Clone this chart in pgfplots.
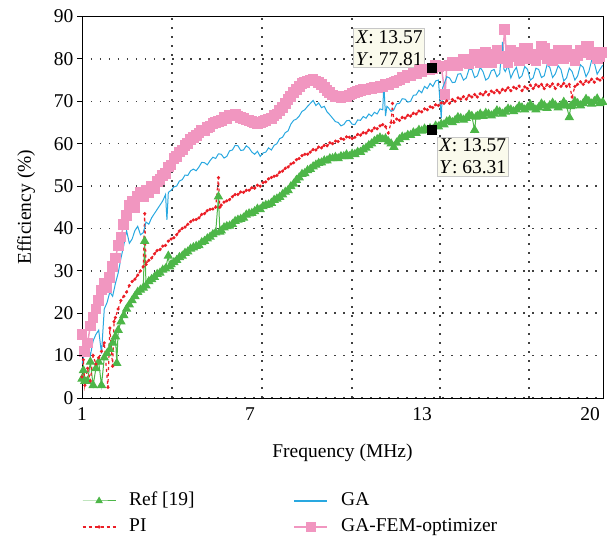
\documentclass[border=0pt]{standalone}
\usepackage{fontspec}
\setmainfont{Liberation Serif}
\usepackage{pgfplots}
\pgfplotsset{compat=1.18}
\definecolor{cgreen}{RGB}{77,182,72}
\definecolor{cred}{RGB}{235,30,38}
\definecolor{cblue}{RGB}{41,168,224}
\definecolor{cpink}{RGB}{241,150,192}
\definecolor{tipfill}{RGB}{250,250,236}
\begin{document}
\begin{tikzpicture}[font=\fontsize{19.5}{22}\selectfont]
\begin{axis}[name=ax, scale only axis, width=521pt, height=381.5pt,
  xmin=1, xmax=19.71, ymin=0, ymax=90,
  xtick={1,7.03,13.21,19.25}, xticklabels={1,7,13,20},
  ytick={0,10,...,90},
  extra x ticks={4.23,7.47,10.70,13.86,17.06}, extra x tick labels={},
  extra x tick style={grid=major, major grid style={black!75, line width=1.5pt, dash pattern=on 1.5pt off 7.5pt}},
  ymajorgrids=true,
  major grid style={black!75, line width=1.5pt, dash pattern=on 1.5pt off 7.5pt},
  major tick length=0pt,
  ytick pos=left, xtick pos=bottom,
  axis line style={black, line width=0.9pt},
  /pgf/number format/assume math mode=true,
  xticklabel style={yshift=-6pt},
  yticklabel style={xshift=-5pt},
  xlabel={Frequency (MHz)}, ylabel={Efficiency (\%)},
  xlabel shift=16pt, ylabel shift=12pt,
  legend columns=2, legend cell align=left,
  legend style={at={(0,-0.2438)}, anchor=north west, draw=none, fill=none,
    inner sep=0pt, outer sep=0pt, row sep=6pt,
    nodes={text height=14pt, text depth=4pt, inner sep=1pt},
    /tikz/every odd column/.append style={column sep=12pt},
    /tikz/every even column/.append style={column sep=98pt}},
  legend image code/.code={\draw[mark repeat=2,mark phase=2,#1] plot coordinates {(0pt,0pt)(16.5pt,0pt)(33pt,0pt)};},
]
% GA-FEM-optimizer
\addplot[forget plot, cpink, line width=1.5pt, mark=square*, mark size=4.6pt, mark options={solid}] coordinates {
(1.0,15)(1.1,11)(1.2,13)(1.3,17)(1.4,19)(1.5,21)(1.6,23)(1.7,25.5)(1.8,27)(1.9,26)(2.0,28.5)(2.1,31)(2.2,33)(2.3,36)(2.4,38)(2.5,41)(2.6,43)(2.7,45.5)(2.8,46.5)(2.9,45)(3.0,47.5)(3.1,48.5)(3.2,47.5)(3.3,49)(3.4,48.5)(3.5,50)(3.6,49.5)(3.7,51)(3.8,51.5)(3.9,52.5)(4.0,53)(4.1,54.5)(4.2,55)(4.3,56.5)(4.4,57)(4.5,58)(4.6,58.5)(4.7,59.5)(4.8,60)(4.9,61)(5.0,61.5)(5.1,62)(5.2,62.5)(5.3,63.2)(5.4,63)(5.5,63.8)(5.6,64)(5.7,64.8)(5.8,65)(5.9,65.3)(6.0,65.5)(6.1,66.2)(6.2,66)(6.3,66.6)(6.4,66.5)(6.5,66.8)(6.6,66.5)(6.7,66.2)(6.8,66)(6.9,65.6)(7.0,65.5)(7.1,65.2)(7.2,65)(7.3,64.8)(7.4,65)(7.5,65.2)(7.6,65.5)(7.7,65.8)(7.8,66)(7.9,66.6)(8.0,67)(8.1,67.8)(8.2,68.5)(8.3,69.5)(8.4,70.5)(8.5,71.2)(8.6,72)(8.7,72.8)(8.8,73.5)(8.9,74.2)(9.0,74.5)(9.1,74.8)(9.2,75)(9.3,75.1)(9.4,74.8)(9.5,74.5)(9.6,74)(9.7,73.2)(9.8,72.5)(9.9,72)(10.0,71.5)(10.1,71.2)(10.2,71)(10.3,70.9)(10.4,71)(10.5,71.2)(10.6,71.5)(10.7,71.8)(10.8,72)(10.9,72.3)(11.0,72.5)(11.1,72.7)(11.2,72.8)(11.3,72.9)(11.4,73)(11.5,73.3)(11.6,73.2)(11.7,73.6)(11.8,73.5)(11.9,73.9)(12.0,74)(12.1,74.3)(12.2,74.5)(12.3,74.8)(12.4,75)(12.5,75.6)(12.6,75.5)(12.7,76)(12.8,76)(12.9,76.6)(13.0,76.5)(13.1,77.2)(13.2,77)(13.3,77.6)(13.4,77.5)(13.5,77.5)(13.6,77.8)(13.7,78.5)(13.8,78.2)(13.9,78.3)(14.04,71.6)(14.1,78.3)(14.2,78.5)(14.3,79.2)(14.4,78.8)(14.5,78.4)(14.6,79)(14.7,80)(14.8,79.2)(14.9,78.8)(15.0,79.5)(15.1,81)(15.2,80.5)(15.3,79)(15.4,79.6)(15.5,81.5)(15.6,80)(15.7,79.2)(15.8,81)(15.9,82)(16.0,80)(16.1,80.5)(16.18,87)(16.25,80.5)(16.3,79)(16.4,82)(16.5,81.5)(16.6,80.5)(16.7,79.5)(16.8,81)(16.9,82.5)(17.0,82.5)(17.1,80)(17.2,80.8)(17.3,79.5)(17.4,81)(17.5,83)(17.6,82.5)(17.7,80)(17.8,81)(17.9,79.5)(18.0,80.8)(18.1,82)(18.2,81.3)(18.3,80)(18.4,82)(18.5,80.5)(18.6,81)(18.7,79.5)(18.8,80.7)(18.9,82)(19.0,81.5)(19.1,83)(19.2,83)(19.3,81)(19.4,81.5)(19.5,80)(19.6,80.5)(19.7,81.5)
};
% Ref [19]
\addplot[forget plot, cgreen, line width=1pt, mark=triangle*, mark size=4.5pt] coordinates {
(1.0,4.5)(1.05,6.5)(1.1,4)(1.2,4)(1.3,8.5)(1.4,3)(1.5,7)(1.6,8.5)(1.7,3)(1.8,9.5)(1.9,10.5)(2.0,11.5)(2.1,13)(2.2,14.5)(2.25,8.2)(2.3,16)(2.4,18)(2.5,19.5)(2.6,21)(2.7,22)(2.8,23)(2.9,24)(3.0,25)(3.1,25.5)(3.2,26)(3.25,37)(3.3,26.5)(3.4,27.5)(3.5,28)(3.6,28.5)(3.7,29.2)(3.8,29.5)(3.9,30.2)(4.0,30.5)(4.1,33.5)(4.15,31)(4.2,31.5)(4.3,32)(4.4,32.5)(4.5,33.2)(4.6,33.5)(4.7,34.2)(4.8,34.5)(4.9,35.2)(5.0,35.5)(5.1,35.8)(5.2,36)(5.3,36.7)(5.4,37)(5.5,37.6)(5.6,38)(5.7,38.6)(5.8,39)(5.9,47.5)(5.95,39.2)(6.0,39.5)(6.1,40.2)(6.2,40.5)(6.3,40.6)(6.4,41)(6.5,41.7)(6.6,42)(6.7,42.2)(6.8,42.5)(6.9,43.2)(7.0,43.5)(7.1,43.6)(7.2,44)(7.3,44.6)(7.4,44.5)(7.5,45.2)(7.6,45.5)(7.7,45.6)(7.8,46)(7.9,46.7)(8.0,47)(8.1,47.4)(8.2,48)(8.3,48.6)(8.4,49)(8.5,49.9)(8.6,50.5)(8.7,51.4)(8.8,52)(8.9,52.8)(9.0,53)(9.1,53.7)(9.2,54)(9.3,54.6)(9.4,55)(9.5,55.4)(9.6,55.5)(9.7,56)(9.8,56)(9.9,56.5)(10.0,56.5)(10.1,56.8)(10.2,56.5)(10.3,57)(10.4,57)(10.5,57.4)(10.6,57)(10.7,57.6)(10.8,57.5)(10.9,58)(11.0,58)(11.1,58.6)(11.2,59)(11.3,59.6)(11.4,60)(11.5,60.6)(11.6,61)(11.7,61.4)(11.8,61)(11.9,61.2)(12.0,60.5)(12.1,60)(12.2,59.2)(12.3,60.2)(12.4,61)(12.5,61.6)(12.6,61.5)(12.7,62)(12.8,62)(12.9,62.6)(13.0,62.5)(13.1,63.2)(13.2,63)(13.3,63.5)(13.4,63.2)(13.5,63.6)(13.6,63.3)(13.7,64.2)(13.8,64)(13.9,64.6)(14.0,64.5)(14.1,65.2)(14.2,65.5)(14.3,65)(14.4,65.5)(14.5,66.2)(14.6,66)(14.7,65.6)(14.8,66)(14.9,66.8)(15.0,66.5)(15.1,63.2)(15.15,66.3)(15.2,66.5)(15.3,67)(15.4,66.5)(15.5,67.2)(15.6,67)(15.7,66.6)(15.8,67)(15.9,67.8)(16.0,67.5)(16.1,67)(16.2,67.5)(16.3,68.2)(16.4,68)(16.5,67.6)(16.6,68)(16.7,68.8)(16.8,68.5)(16.9,68)(17.0,68.5)(17.1,69.2)(17.2,68.5)(17.3,68)(17.4,68.5)(17.5,69.4)(17.6,69)(17.7,68.4)(17.8,69)(17.9,69.6)(18.0,69)(18.1,68.5)(18.2,69)(18.3,69.8)(18.4,69)(18.5,66.2)(18.55,68.8)(18.6,69)(18.7,70)(18.8,69.5)(18.9,69)(19.0,69.5)(19.1,70.5)(19.2,70)(19.3,69.4)(19.4,70)(19.5,70.6)(19.6,69.5)(19.7,69.8)
};
% PI
\addplot[forget plot, cred, line width=1.2pt, dashed, mark=*, mark size=0.9pt, mark options={solid}] coordinates {
(1.0,5)(1.05,9)(1.1,3)(1.2,7)(1.3,4)(1.4,10)(1.5,8)(1.6,9.5)(1.7,11)(1.8,13)(1.93,2.5)(2.0,16.5)(2.1,7.5)(2.15,18)(2.2,19)(2.3,21)(2.4,23)(2.5,24)(2.6,25)(2.7,26.5)(2.8,27.5)(2.9,28)(3.0,29)(3.1,30)(3.2,31)(3.25,43.5)(3.3,31.5)(3.4,32.5)(3.5,33)(3.6,34)(3.7,34.8)(3.8,35)(3.9,35.8)(4.0,36)(4.1,37)(4.2,37.5)(4.3,37.8)(4.4,38.5)(4.5,39.4)(4.6,40)(4.7,40.3)(4.8,41)(4.9,41.6)(5.0,42)(5.1,42.1)(5.2,42.5)(5.3,43.3)(5.4,43.5)(5.5,44.2)(5.6,44.5)(5.7,44.6)(5.8,45)(5.9,52)(5.95,45)(6.0,45.5)(6.1,46.2)(6.2,46.5)(6.3,46.8)(6.4,47.5)(6.5,48)(6.6,48)(6.7,48.6)(6.8,48.5)(6.9,49)(7.0,49)(7.1,49.6)(7.2,49.5)(7.3,50.2)(7.4,50)(7.5,50.8)(7.6,51)(7.7,51.7)(7.8,52)(7.9,52.3)(8.0,52.5)(8.1,53.3)(8.2,53.5)(8.3,54.2)(8.4,54.5)(8.5,55.2)(8.6,55.5)(8.7,56.2)(8.8,56.5)(8.9,57.2)(9.0,57.5)(9.1,57.5)(9.2,58)(9.3,58.6)(9.4,58.5)(9.5,59.2)(9.6,59)(9.7,59.6)(9.8,59.5)(9.9,60.2)(10.0,60)(10.1,60.6)(10.2,60.5)(10.3,61.2)(10.4,61)(10.5,61.6)(10.6,61.5)(10.7,61.2)(10.8,61.5)(10.9,62.2)(11.0,62)(11.1,62.6)(11.2,62.5)(11.3,63.2)(11.4,63)(11.5,63.7)(11.6,63.5)(11.7,64.2)(11.8,64.5)(11.9,64)(12.0,62.5)(12.1,65)(12.15,69.5)(12.2,65)(12.3,65.8)(12.4,65.5)(12.5,66.2)(12.6,66)(12.7,66.7)(12.8,66.5)(12.9,67.2)(13.0,67)(13.1,67.7)(13.2,67.5)(13.3,68.2)(13.4,68)(13.5,68.7)(13.6,68.5)(13.7,69.2)(13.8,69)(13.9,69.6)(14.0,69.5)(14.1,70.1)(14.2,69.5)(14.3,70.4)(14.4,70)(14.5,70.8)(14.6,70.5)(14.7,71.1)(14.8,70.5)(14.9,71.4)(15.0,71)(15.1,71.6)(15.2,71)(15.3,71.8)(15.4,71.5)(15.5,72.2)(15.6,71.5)(15.7,72.4)(15.8,72)(15.9,72.6)(16.0,72)(16.1,72.8)(16.2,72.5)(16.3,73.2)(16.4,72.5)(16.5,73.3)(16.6,73)(16.7,73.6)(16.8,72.5)(16.9,73.4)(17.0,73)(17.1,73.8)(17.2,73)(17.3,73.9)(17.4,73.5)(17.5,74)(17.6,73)(17.7,73.9)(17.8,73.5)(17.9,74.1)(18.0,73)(18.1,74)(18.2,73.5)(18.3,74.2)(18.4,73.5)(18.5,74)(18.6,71)(18.7,73.5)(18.8,74)(18.9,74.6)(19.0,74)(19.1,74.8)(19.2,74.5)(19.3,75.2)(19.4,74.5)(19.5,75.3)(19.6,75)(19.7,75.5)
};
% GA
\addplot[forget plot, cblue, line width=1pt] coordinates {
(1.0,8)(1.1,11)(1.2,12.5)(1.3,10)(1.4,13.5)(1.5,15)(1.6,16)(1.7,10.5)(1.8,21)(1.9,22.5)(2.0,25)(2.1,24)(2.2,27)(2.3,29.5)(2.4,33)(2.5,36)(2.6,39.5)(2.7,36.5)(2.8,37.5)(2.9,39.5)(3.0,40.5)(3.1,38.5)(3.2,39)(3.3,41.5)(3.4,41)(3.5,42.5)(3.6,43.5)(3.7,44.5)(3.8,45.5)(3.9,46.5)(4.0,48)(4.05,42)(4.1,48.5)(4.2,49)(4.3,49.8)(4.4,50)(4.5,51.2)(4.6,51.5)(4.7,52.6)(4.8,52.5)(4.9,53.6)(5.0,54)(5.1,53.6)(5.2,54.5)(5.3,55.6)(5.4,55.5)(5.5,55)(5.6,56)(5.7,56.8)(5.8,56.5)(5.9,57.6)(6.0,57.5)(6.1,56.6)(6.2,57)(6.3,58.3)(6.4,58.5)(6.5,59.6)(6.6,59.5)(6.7,58.4)(6.8,58.5)(6.9,59.5)(7.0,59)(7.1,58)(7.2,57.5)(7.3,58.2)(7.4,57)(7.5,57.8)(7.6,58)(7.7,59)(7.8,58.5)(7.9,59.6)(8.0,60)(8.1,61.2)(8.2,61.5)(8.3,62.6)(8.4,63)(8.5,64.6)(8.6,65.5)(8.7,65.8)(8.8,66.5)(8.9,67.6)(9.0,68)(9.1,68.8)(9.2,69.5)(9.3,70.2)(9.4,69)(9.5,69.6)(9.6,68.5)(9.7,68.8)(9.8,67.5)(9.9,66.8)(10.0,66)(10.1,65.2)(10.2,65)(10.3,64.2)(10.4,64.5)(10.5,65.4)(10.6,65.5)(10.7,64.6)(10.8,64.5)(10.9,65.6)(11.0,65.5)(11.1,66.4)(11.2,66)(11.3,67)(11.4,66.5)(11.5,67.4)(11.6,67)(11.7,68.2)(11.8,68)(11.84,74)(11.9,66.5)(11.95,68.8)(12.0,68.5)(12.1,67.6)(12.2,68)(12.3,69.4)(12.4,69.5)(12.5,70.6)(12.6,70.5)(12.7,69.8)(12.8,70)(12.9,71.4)(13.0,71.5)(13.1,72.6)(13.2,72)(13.3,73.5)(13.4,73)(13.5,74.2)(13.6,73.5)(13.7,74.8)(13.8,75)(13.9,66)(13.95,73.2)(14.0,74)(14.1,75.8)(14.2,75.5)(14.3,74.4)(14.4,74.5)(14.5,76.4)(14.6,76.5)(14.7,75)(14.8,75.5)(14.9,77.6)(15.0,77.5)(15.1,75.6)(15.2,76)(15.3,78)(15.4,77)(15.5,75)(15.6,75.5)(15.7,77.2)(15.8,77.5)(15.9,75.8)(16.0,76.5)(16.1,84)(16.15,77.6)(16.2,77)(16.3,78.4)(16.4,75.5)(16.5,77)(16.6,78)(16.7,75.4)(16.8,76)(16.9,78.2)(17.0,77.5)(17.1,75)(17.2,75.5)(17.3,77.8)(17.4,77.5)(17.5,75.6)(17.6,76)(17.7,78.6)(17.8,78)(17.9,75.6)(18.0,76.5)(18.1,78.4)(18.2,77.5)(18.3,74.8)(18.4,75.5)(18.5,77.8)(18.6,77)(18.7,75)(18.8,76)(18.9,78.6)(19.0,78)(19.1,75.8)(19.2,77)(19.3,79.6)(19.4,79)(19.5,76.4)(19.6,77.5)(19.7,78.5)
};
% data tips
\addplot[forget plot, only marks, black, mark=square*, mark size=4.5pt] coordinates {(13.57,77.81)(13.57,63.31)};
\node[draw=black!22, line width=0.8pt, fill=tipfill, inner sep=2pt, align=left, anchor=south east, xshift=-7pt] at (axis cs:13.57,77.81) {\textit{X}: 13.57\\\textit{Y}: 77.81};
\node[draw=black!22, line width=0.8pt, fill=tipfill, inner sep=2pt, align=left, anchor=north west, xshift=5pt, yshift=-7pt] at (axis cs:13.57,63.31) {\textit{X}: 13.57\\\textit{Y}: 63.31};
% legend
\addlegendimage{cgreen, line width=1pt, mark=triangle*, mark size=3.5pt}
\addlegendentry{Ref [19]}
\addlegendimage{cblue, line width=1.2pt}
\addlegendentry{GA}
\addlegendimage{cred, line width=1.2pt, dashed, mark=*, mark size=1pt, mark options={solid}}
\addlegendentry{PI}
\addlegendimage{cpink, line width=1.5pt, mark=square*, mark size=4pt}
\addlegendentry{GA-FEM-optimizer}
\end{axis}
% outward y tick marks
\foreach \k in {0,...,9} \draw[black, line width=0.8pt] ([yshift=\k*42.389pt]ax.south west) -- ++(-5pt,0);
\pgfresetboundingbox
\path[use as bounding box] ([xshift=-82pt,yshift=-138pt]ax.south west) rectangle ([xshift=4pt,yshift=16.5pt]ax.north east);
\end{tikzpicture}
\end{document}
